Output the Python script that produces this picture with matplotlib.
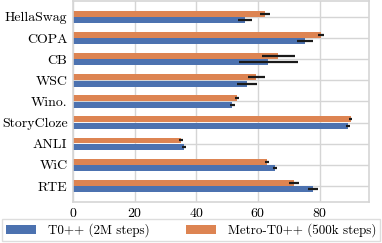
import numpy as np
import matplotlib.pyplot as plt

plt.rcParams['font.family'] = ['cmr10', 'DejaVu Serif']
plt.rcParams['axes.formatter.use_mathtext'] = True

tasks = ['HellaSwag', 'COPA', 'CB', 'WSC', 'Wino.', 'StoryCloze', 'ANLI', 'WiC', 'RTE']
t0_mean = [55.8, 75.3, 63.3, 56.5, 51.6, 89.3, 36.1, 65.6, 77.9]
t0_err = [2.3, 2.6, 9.6, 3.2, 0.8, 0.6, 0.6, 0.6, 1.7]
metro_mean = [62.3, 80.5, 66.6, 59.4, 53.2, 90.0, 35.1, 63.0, 71.8]
metro_err = [1.5, 1.0, 5.4, 2.8, 0.6, 0.6, 0.6, 0.6, 1.6]

fig = plt.figure(figsize=(3.82, 2.43), dpi=100)
ax = fig.add_axes([0.191, 0.169, 0.775, 0.827])

y = np.arange(len(tasks))
h = 0.28
ax.barh(y + 0.155, t0_mean, height=h, xerr=t0_err, color='#4C72B0',
        error_kw=dict(ecolor='#1a1a1a', elinewidth=1.6, capsize=0), label='T0++ (2M steps)', zorder=2)
ax.barh(y - 0.155, metro_mean, height=h, xerr=metro_err, color='#DD8452',
        error_kw=dict(ecolor='#1a1a1a', elinewidth=1.6, capsize=0), label='Metro-T0++ (500k steps)', zorder=2)

ax.set_yticks(y)
ax.set_yticklabels(tasks, fontsize=10)
ax.set_xticks([0, 20, 40, 60, 80])
ax.tick_params(axis='x', labelsize=10)
ax.tick_params(length=0, pad=4)
ax.set_xlim(0, 96)
ax.set_ylim(8.75, -0.75)
ax.grid(True, color='#d5d5d5', linewidth=1.0, zorder=0)
ax.set_axisbelow(True)
for s in ax.spines.values():
    s.set_color('#d5d5d5')
    s.set_linewidth(1.2)

fig.legend(loc='lower center', bbox_to_anchor=(0.5, 0.0), ncol=2, fontsize=9.4,
           frameon=True, edgecolor='#d5d5d5', fancybox=False, handlelength=2.3,
           borderaxespad=0.15, columnspacing=2.8, handletextpad=0.9, borderpad=0.3)

plt.savefig('out.png', dpi=100)
